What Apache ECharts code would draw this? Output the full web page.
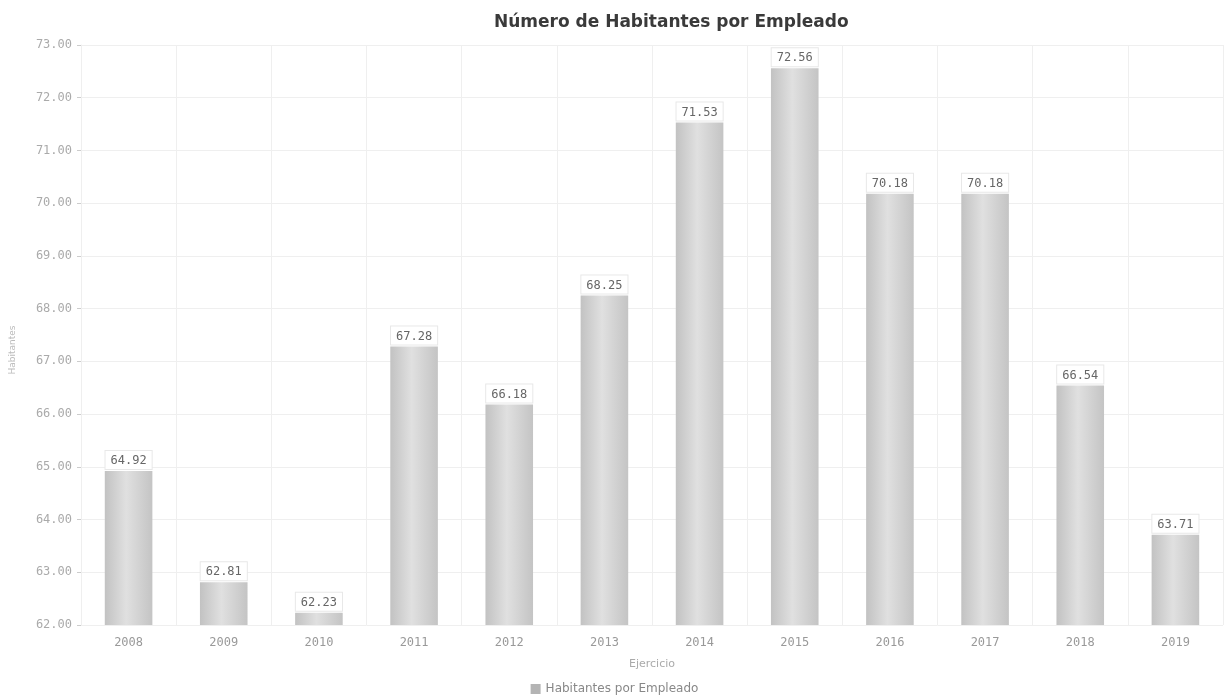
<!DOCTYPE html>
<html>
<head>
<meta charset="utf-8">
<script src="https://cdn.jsdelivr.net/npm/echarts@6/dist/echarts.min.js"></script>
<style>html,body{margin:0;padding:0;background:#fff;}#c{width:1229px;height:700px;}</style>
</head>
<body>
<div id="c"></div>
<script>
var categories = ['2008','2009','2010','2011','2012','2013','2014','2015','2016','2017','2018','2019'];
var values = [64.92, 62.81, 62.23, 67.28, 66.18, 68.25, 71.53, 72.56, 70.18, 70.18, 66.54, 63.71];
var seriesName = 'Habitantes por Empleado';

var chart = echarts.init(document.getElementById('c'));
var barColor = new echarts.graphic.LinearGradient(0, 0, 1, 0, [
  {offset: 0, color: '#c2c2c2'},
  {offset: 0.45, color: '#e0e0e0'},
  {offset: 1, color: '#c4c4c4'}
]);
chart.setOption({
  animation: false,
  title: {
    text: 'Número de Habitantes por Empleado',
    left: 489, top: 9,
    textStyle: {fontFamily: 'DejaVu Sans', fontSize: 17, fontWeight: 'bold', color: '#3a3a3a'}
  },
  legend: {
    bottom: 0, left: 'center',
    itemWidth: 10, itemHeight: 10, icon: 'rect', itemGap: 6,
    textStyle: {fontFamily: 'DejaVu Sans', fontSize: 12, color: '#888'},
    data: [{name: seriesName, itemStyle: {color: '#b4b4b4'}}]
  },
  grid: {left: 79, right: 6, top: 45, bottom: 75, containLabel: false},
  xAxis: {
    type: 'category', data: categories,
    name: 'Ejercicio', nameLocation: 'middle', nameGap: 34,
    nameTextStyle: {fontFamily: 'DejaVu Sans', fontSize: 11, color: '#aaa'},
    axisLine: {show: false},
    axisTick: {show: false},
    axisLabel: {fontFamily: 'DejaVu Sans Mono', fontSize: 12, color: '#999', margin: 12},
    splitLine: {show: true, interval: 0, lineStyle: {color: '#efefef', width: 1}}
  },
  yAxis: {
    type: 'value', min: 62, max: 73, interval: 1,
    name: 'Habitantes', nameLocation: 'middle', nameGap: 64, nameRotate: 90,
    nameTextStyle: {fontFamily: 'DejaVu Sans', fontSize: 9, color: '#bbb', padding: [0, 30, 0, 0]},
    axisLine: {show: true, lineStyle: {color: '#efefef'}},
    axisTick: {show: true, length: 4, lineStyle: {color: '#cccccc'}},
    axisLabel: {fontFamily: 'DejaVu Sans Mono', fontSize: 12, color: '#aaa', margin: 9,
      formatter: function (v) { return v.toFixed(2); }},
    splitLine: {show: true, lineStyle: {color: '#efefef', width: 1}}
  },
  series: [{
    name: seriesName, type: 'bar', data: values, barWidth: '50%',
    itemStyle: {color: barColor},
    label: {
      show: true, position: 'top', distance: 2,
      fontFamily: 'DejaVu Sans Mono', fontSize: 12, color: '#666',
      backgroundColor: '#fff', borderColor: '#e8e8e8', borderWidth: 1,
      padding: [4, 5, 2, 5],
      formatter: function (p) { return p.value.toFixed(2); }
    }
  }]
});
</script>
</body>
</html>
